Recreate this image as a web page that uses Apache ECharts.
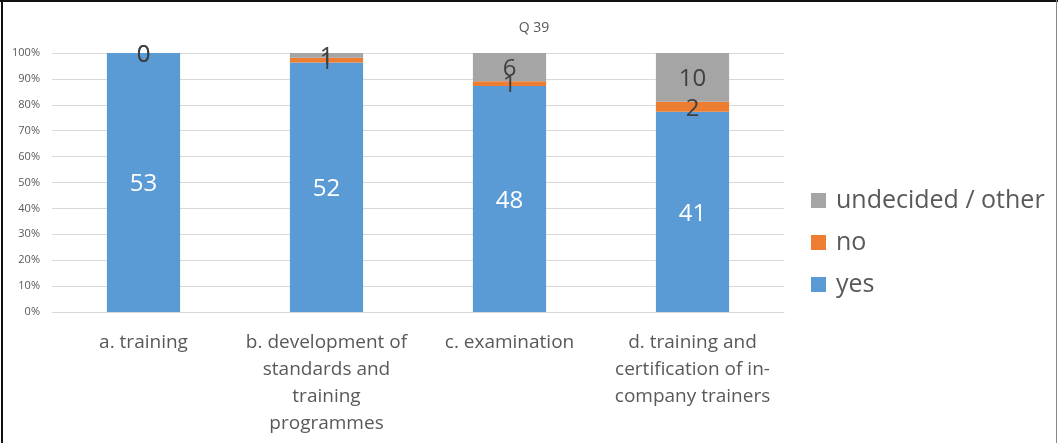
<!DOCTYPE html>
<html>
<head>
<meta charset="utf-8">
<script src="https://cdn.jsdelivr.net/npm/echarts@6/dist/echarts.min.js"></script>
<style>
html,body{margin:0;padding:0;background:#fff;}
#chart{position:absolute;left:0;top:0;width:1058px;height:443px;}
#bt{position:absolute;left:0;top:0;width:1058px;height:2px;background:#111;}
#bl{position:absolute;left:1px;top:0;width:2px;height:443px;background:#111;}
#br{position:absolute;left:1056px;top:0;width:1px;height:443px;background:#888;}
</style>
</head>
<body>
<div id="chart"></div>
<div id="bt"></div><div id="bl"></div><div id="br"></div>
<script>
const categories = ["a. training", "b. development of\nstandards and\ntraining\nprogrammes", "c. examination", "d. training and\ncertification of in-\ncompany trainers"];
const yesCounts = [53, 52, 48, 41];
const noCounts = [0, 1, 1, 2];
const undecidedCounts = [0, 1, 6, 10];
const yTickLabels = ["0%","10%","20%","30%","40%","50%","60%","70%","80%","90%","100%"];

const totals = categories.map((_, i) => yesCounts[i] + noCounts[i] + undecidedCounts[i]);
const pct = arr => arr.map((v, i) => v / totals[i] * 100);

const FONT = "'Open Sans', sans-serif";
const chart = echarts.init(document.getElementById('chart'));

function mkSeries(name, counts, color, labelColor) {
  return {
    name: name,
    type: 'bar',
    stack: 'total',
    barWidth: '40%',
    data: pct(counts),
    itemStyle: { color: color },
    label: {
      show: true,
      position: 'inside',
      offset: [0, 2],
      color: labelColor,
      fontSize: 24,
      fontFamily: FONT,
      formatter: p => String(counts[p.dataIndex])
    },
    emphasis: { disabled: true }
  };
}

chart.setOption({
  animation: false,
  title: {
    text: 'Q 39',
    left: 529, top: 16,
    textAlign: 'center',
    textStyle: { fontSize: 14, fontWeight: 'normal', color: '#595959', fontFamily: FONT }
  },
  legend: {
    orient: 'vertical',
    left: 811, top: 188,
    padding: 0,
    itemWidth: 15, itemHeight: 15,
    itemGap: 17,
    icon: 'rect',
    data: ['undecided / other', 'no', 'yes'],
    textStyle: { fontSize: 25, color: '#595959', fontFamily: FONT, padding: [0, 0, 0, 5] }
  },
  grid: { left: 52, right: 274, top: 53, bottom: 131, containLabel: false },
  xAxis: {
    type: 'category',
    data: categories,
    axisLine: { lineStyle: { color: '#d9d9d9' } },
    axisTick: { show: false },
    axisLabel: { interval: 0, fontSize: 19, color: '#595959', fontFamily: FONT, lineHeight: 27, margin: 17 }
  },
  yAxis: {
    type: 'value',
    min: 0, max: 100, interval: 10,
    axisLine: { show: false },
    axisTick: { show: false },
    splitLine: { lineStyle: { color: '#d9d9d9' } },
    axisLabel: {
      fontSize: 11, color: '#595959', fontFamily: FONT, margin: 12,
      formatter: v => yTickLabels[Math.round(v / 10)]
    }
  },
  series: [
    mkSeries('yes', yesCounts, '#5B9BD5', '#ffffff'),
    mkSeries('no', noCounts, '#ED7D31', '#404040'),
    mkSeries('undecided / other', undecidedCounts, '#A5A5A5', '#404040')
  ]
});
</script>
</body>
</html>
